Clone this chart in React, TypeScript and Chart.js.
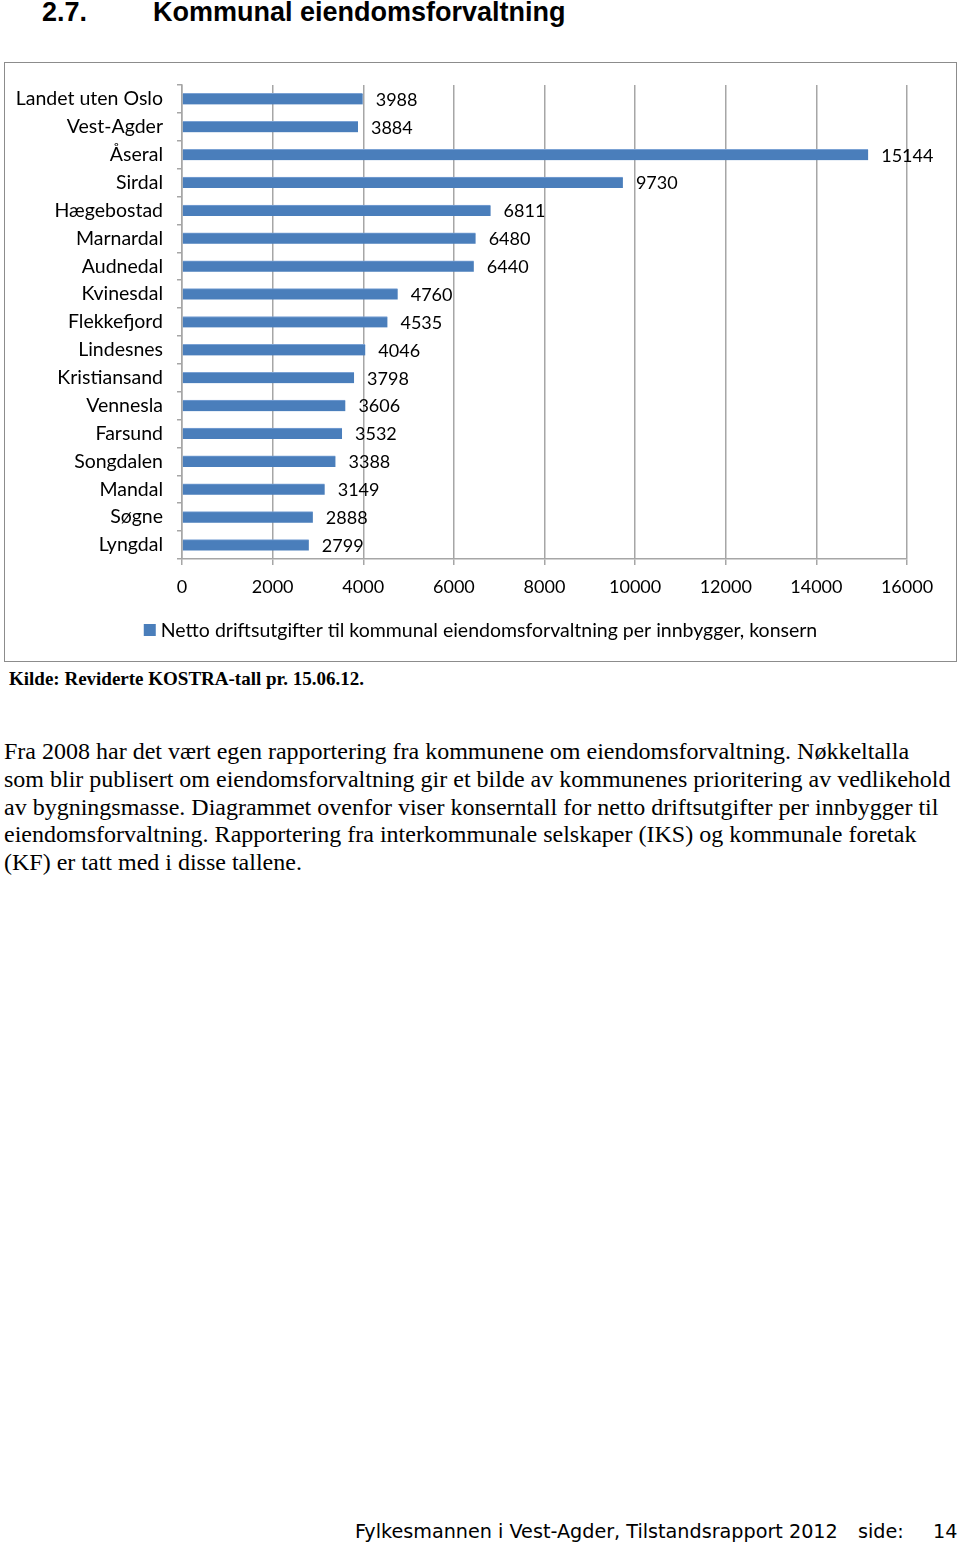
import React, { useEffect, useRef } from "react";
import { Chart, registerables } from "chart.js";

Chart.register(...registerables);

const categories = [
  "Landet uten Oslo",
  "Vest-Agder",
  "Åseral",
  "Sirdal",
  "Hægebostad",
  "Marnardal",
  "Audnedal",
  "Kvinesdal",
  "Flekkefjord",
  "Lindesnes",
  "Kristiansand",
  "Vennesla",
  "Farsund",
  "Songdalen",
  "Mandal",
  "Søgne",
  "Lyngdal",
];
const values = [3988, 3884, 15144, 9730, 6811, 6480, 6440, 4760, 4535, 4046, 3798, 3606, 3532, 3388, 3149, 2888, 2799];
const seriesLabel = "Netto driftsutgifter til kommunal eiendomsforvaltning per innbygger, konsern";
const xMin = 0;
const xMax = 16000;
const xStep = 2000;

const paragraphLines = [
  "Fra 2008 har det vært egen rapportering fra kommunene om eiendomsforvaltning. Nøkkeltalla",
  "som blir publisert om eiendomsforvaltning gir et bilde av kommunenes prioritering av vedlikehold",
  "av bygningsmasse. Diagrammet ovenfor viser konserntall for netto driftsutgifter per innbygger til",
  "eiendomsforvaltning. Rapportering fra interkommunale selskaper (IKS) og kommunale foretak",
  "(KF) er tatt med i disse tallene.",
];

const BAR_COLOR = "#4a7ebb";
const BAR_EDGE = "#7ba2d4";
const GRID_COLOR = "#a6a6a6";
const FONT = "Lato, 'Open Sans', sans-serif";

const valueLabelPlugin = {
  id: "valueLabels",
  afterDatasetsDraw(chart: any) {
    const ctx = chart.ctx;
    const meta = chart.getDatasetMeta(0);
    ctx.save();
    ctx.font = `18px ${FONT}`;
    ctx.fillStyle = "#000";
    ctx.textBaseline = "middle";
    ctx.textAlign = "left";
    meta.data.forEach((bar: any, i: number) => {
      const v = chart.data.datasets[0].data[i];
      ctx.fillText(String(v), bar.x + 13, bar.y + 1);
    });
    ctx.restore();
  },
};

const customLegendPlugin = {
  id: "customLegend",
  afterDraw(chart: any) {
    const ctx = chart.ctx;
    const ds = chart.data.datasets[0];
    ctx.save();
    ctx.font = `19.5px ${FONT}`;
    const tw = ctx.measureText(ds.label).width;
    const box = 12;
    const gap = 5;
    const total = box + gap + tw;
    const startX = (chart.width - total) / 2;
    const cy = chart.chartArea.bottom + 71;
    ctx.fillStyle = BAR_COLOR;
    ctx.fillRect(startX, cy - box / 2, box, box);
    ctx.fillStyle = "#000";
    ctx.textBaseline = "middle";
    ctx.fillText(ds.label, startX + box + gap, cy + 1);
    ctx.restore();
  },
};

function BarChart() {
  const ref = useRef<HTMLCanvasElement | null>(null);
  useEffect(() => {
    if (!ref.current) return;
    const chart = new Chart(ref.current, {
      type: "bar",
      data: {
        labels: categories,
        datasets: [
          {
            label: seriesLabel,
            data: values,
            backgroundColor: BAR_COLOR,
            borderColor: BAR_EDGE,
            borderWidth: { top: 1, bottom: 0, left: 0, right: 0 },
            borderSkipped: false,
            barThickness: 11,
          },
        ],
      },
      options: {
        indexAxis: "y",
        responsive: false,
        animation: false,
        events: [],
        layout: { padding: { left: 0, right: 49, top: 22, bottom: 64 } },
        plugins: {
          legend: { display: false },
          tooltip: { enabled: false },
        },
        scales: {
          x: {
            min: xMin,
            max: xMax,
            position: "bottom",
            afterFit(scale: any) {
              scale.height = 38;
            },
            ticks: {
              stepSize: xStep,
              color: "#000",
              font: { family: FONT, size: 18 },
              padding: 11,
              callback: (v: any) => String(v),
            },
            grid: {
              color: GRID_COLOR,
              lineWidth: 1.5,
              drawOnChartArea: true,
              drawTicks: true,
              tickLength: 6,
            },
            border: { display: true, color: GRID_COLOR, width: 1.5 },
          },
          y: {
            afterFit(scale: any) {
              scale.width = 177;
              scale.paddingTop = 0;
              scale.paddingBottom = 0;
            },
            ticks: {
              color: "#000",
              font: { family: FONT, size: 19.5 },
              padding: 14,
            },
            grid: {
              color: GRID_COLOR,
              lineWidth: 1.5,
              drawOnChartArea: false,
              drawTicks: true,
              tickLength: 5,
              offset: true,
            },
            border: { display: true, color: GRID_COLOR, width: 1.5 },
          },
        },
      },
      plugins: [valueLabelPlugin, customLegendPlugin],
    });
    return () => chart.destroy();
  }, []);
  return <canvas ref={ref} width={951} height={598} style={{ display: "block" }} />;
}

export default function App() {
  return (
    <div style={{ position: "absolute", left: 0, top: 0, width: 960, height: 1545, background: "#fff" }}>
      <div
        style={{
          position: "absolute",
          top: -3,
          left: 42,
          fontFamily: "'Liberation Sans', Arial, sans-serif",
          fontWeight: "bold",
          fontSize: 27,
          whiteSpace: "nowrap",
        }}
      >
        <span>2.7.</span>
        <span style={{ position: "absolute", left: 111 }}>Kommunal eiendomsforvaltning</span>
      </div>
      <div
        style={{
          position: "absolute",
          left: 4,
          top: 62,
          width: 951,
          height: 598,
          border: "1px solid #8c8c8c",
        }}
      >
        <BarChart />
      </div>
      <div
        style={{
          position: "absolute",
          left: 9,
          top: 668,
          fontFamily: "'Liberation Serif', 'Times New Roman', serif",
          fontWeight: "bold",
          fontSize: 19,
          whiteSpace: "nowrap",
        }}
      >
        Kilde: Reviderte KOSTRA-tall pr. 15.06.12.
      </div>
      <div
        style={{
          position: "absolute",
          left: 4,
          top: 738,
          fontFamily: "'Liberation Serif', 'Times New Roman', serif",
          fontSize: 24,
          lineHeight: "27.75px",
          whiteSpace: "nowrap",
        }}
      >
        {paragraphLines.map((l, i) => (
          <div key={i}>{l}</div>
        ))}
      </div>
      <div
        style={{
          position: "absolute",
          top: 1520,
          left: 355,
          fontFamily: "'DejaVu Sans', Verdana, sans-serif",
          fontSize: 19.2,
          whiteSpace: "nowrap",
        }}
      >
        Fylkesmannen i Vest-Agder, Tilstandsrapport 2012
        <span style={{ position: "absolute", left: 503 }}>side:</span>
        <span style={{ position: "absolute", left: 578 }}>14</span>
      </div>
    </div>
  );
}
